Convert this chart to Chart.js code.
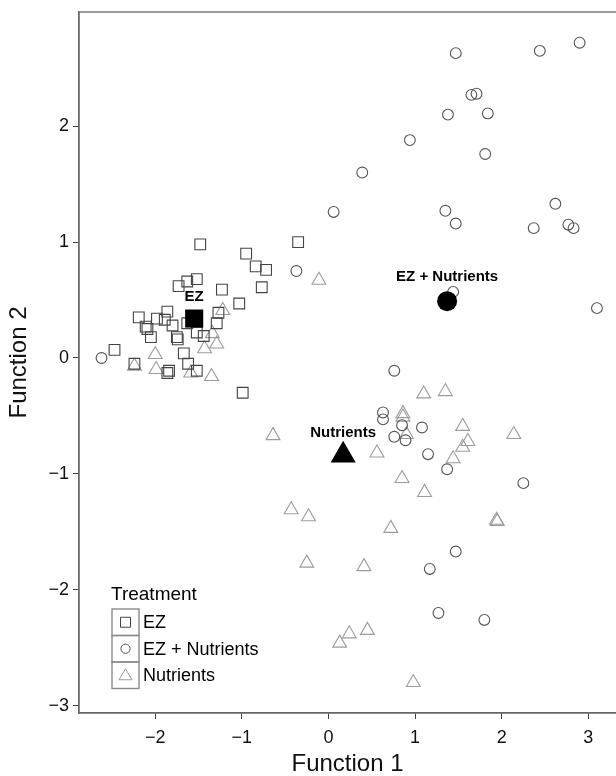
<!DOCTYPE html>
<html>
<head>
<meta charset="utf-8">
<title>Discriminant functions by treatment</title>
<style>
  html, body { margin: 0; padding: 0; background: #fff; overflow: hidden; }
  #wrap { width: 616px; height: 776px; position: relative; }
  canvas { display: block; }
</style>
</head>
<body>
<div id="wrap"><canvas id="chart"></canvas></div>
<script src="https://cdn.jsdelivr.net/npm/chart.js@4/dist/chart.umd.min.js"></script>
<script>
// group labels
var groups = ['EZ', 'EZ + Nutrients', 'Nutrients'];

// EZ (squares)
var ezX = [-1.48, -0.95, -0.84, -0.72, -0.77, -0.35, -1.52, -1.63, -1.73, -1.23, -1.03, -1.86, -1.27,
           -2.19, -1.98, -1.89, -1.29, -1.63, -2.11, -1.80, -2.09, -2.05, -1.75, -1.74, -1.52, -1.44,
           -2.47, -1.67, -1.62, -2.24, -1.84, -1.86, -1.52, -0.99];
var ezY = [0.98, 0.90, 0.79, 0.76, 0.61, 1.00, 0.68, 0.66, 0.62, 0.59, 0.47, 0.40, 0.39,
           0.35, 0.34, 0.33, 0.30, 0.30, 0.27, 0.28, 0.25, 0.18, 0.18, 0.16, 0.22, 0.19,
           0.07, 0.04, -0.05, -0.05, -0.11, -0.13, -0.11, -0.30];

// EZ + Nutrients (circles)
var eznX = [1.47, 2.44, 2.90, 1.65, 1.71, 1.38, 1.84, 0.94, 1.81, 0.39, 0.06, 1.35, 1.47, 2.62,
            2.37, 2.77, 2.83, -0.37, 1.44, 3.10, -2.62, 0.76, 0.63, 0.63, 0.85, 1.08, 0.76, 0.89,
            1.15, 1.37, 2.25, 1.47, 1.17, 1.27, 1.80];
var eznY = [2.63, 2.65, 2.72, 2.27, 2.28, 2.10, 2.11, 1.88, 1.76, 1.60, 1.26, 1.27, 1.16, 1.33,
            1.12, 1.15, 1.12, 0.75, 0.57, 0.43, 0.00, -0.11, -0.47, -0.53, -0.58, -0.60, -0.68, -0.71,
            -0.83, -0.96, -1.08, -1.67, -1.82, -2.20, -2.26];

// Nutrients (triangles)
var nutX = [-1.22, -1.34, -1.29, -1.43, -2.00, -2.24, -1.99, -1.59, -1.35, -0.11, -0.64, 1.10, 1.35,
            0.86, 0.86, 1.55, 0.90, 1.61, 1.55, 2.14, 0.56, 1.44, 0.85, 1.11, -0.43, -0.23, 0.72,
            1.94, 1.95, -0.25, 0.41, 0.24, 0.45, 0.13, 0.98];
var nutY = [0.41, 0.21, 0.12, 0.08, 0.03, -0.07, -0.10, -0.13, -0.16, 0.67, -0.67, -0.31, -0.29,
            -0.48, -0.51, -0.59, -0.66, -0.72, -0.77, -0.66, -0.82, -0.87, -1.04, -1.16, -1.31, -1.37, -1.47,
            -1.40, -1.41, -1.77, -1.80, -2.38, -2.35, -2.46, -2.80];

// group centroids, same order as groups
var centX = [-1.55, 1.37, 0.17];
var centY = [0.34, 0.49, -0.84];

// axis range and ticks
var xRange = [-2.88, 3.32];
var yRange = [-3.063, 2.985];

function pts(xs, ys) {
  return xs.map(function (x, i) { return { x: x, y: ys[i] }; });
}

function minus(v) {
  return v < 0 ? '\u2212' + Math.abs(v) : String(v);
}

var styles = ['rect', 'circle', 'triangle'];
var strokes = ['#444', '#555', '#9c9c9c'];
var radii = [7.6, 5.4, 8];
var centRadii = [12.8, 10, 14.5];

var data = [pts(ezX, ezY), pts(eznX, eznY), pts(nutX, nutY)];
var datasets = [];
groups.forEach(function (g, i) {
  datasets.push({
    label: g,
    data: data[i],
    pointStyle: styles[i],
    pointRadius: radii[i],
    borderColor: strokes[i],
    backgroundColor: 'rgba(0,0,0,0)',
    borderWidth: 1.1,
    order: 1
  });
});
groups.forEach(function (g, i) {
  datasets.push({
    label: g + ' centroid',
    centroid: true,
    data: [{ x: centX[i], y: centY[i] }],
    pointStyle: styles[i],
    pointRadius: centRadii[i],
    borderColor: '#000',
    backgroundColor: '#000',
    borderWidth: 0,
    order: 0
  });
});

var framePlugin = {
  id: 'frame',
  afterDraw: function (chart) {
    var a = chart.chartArea, ctx = chart.ctx;
    ctx.save();
    ctx.strokeStyle = '#666';
    ctx.lineWidth = 1.3;
    ctx.strokeRect(a.left, a.top, a.right - a.left + 2, a.bottom - a.top);
    ctx.restore();
  }
};

var centroidLabels = {
  id: 'centroidLabels',
  afterDatasetsDraw: function (chart) {
    var ctx = chart.ctx;
    ctx.save();
    ctx.font = 'bold 15px "Liberation Sans", Arial, sans-serif';
    ctx.fillStyle = '#000';
    ctx.textAlign = 'center';
    ctx.textBaseline = 'middle';
    var offs = [22, 24, 22];
    chart.data.datasets.forEach(function (ds, di) {
      if (!ds.centroid) return;
      var gi = di - groups.length;
      var el = chart.getDatasetMeta(di).data[0];
      ctx.fillText(groups[gi], el.x, el.y - offs[gi]);
    });
    ctx.restore();
  }
};

var treatmentLegend = {
  id: 'treatmentLegend',
  afterDraw: function (chart) {
    var ctx = chart.ctx, a = chart.chartArea;
    var left = a.left + 33, top = 609, bw = 27, bh = 26.5;
    ctx.save();
    ctx.fillStyle = '#000';
    ctx.textBaseline = 'middle';
    ctx.font = '19px "Liberation Sans", Arial, sans-serif';
    ctx.fillText('Treatment', left - 1, top - 14);
    ctx.font = '18px "Liberation Sans", Arial, sans-serif';
    groups.forEach(function (g, i) {
      var y0 = top + i * bh;
      ctx.strokeStyle = '#8a8a8a';
      ctx.lineWidth = 1.4;
      ctx.strokeRect(left, y0, bw, bh);
      var cx = left + bw / 2, cy = y0 + bh / 2;
      ctx.strokeStyle = strokes[i];
      ctx.lineWidth = 1;
      ctx.beginPath();
      if (i === 0) {
        ctx.rect(cx - 5, cy - 5, 10, 10);
      } else if (i === 1) {
        ctx.arc(cx, cy, 4.6, 0, Math.PI * 2);
      } else {
        ctx.moveTo(cx, cy - 6.5);
        ctx.lineTo(cx + 6.5, cy + 4.5);
        ctx.lineTo(cx - 6.5, cy + 4.5);
        ctx.closePath();
      }
      ctx.stroke();
      ctx.fillStyle = '#000';
      ctx.fillText(g, left + bw + 4, cy + 1);
    });
    ctx.restore();
  }
};

var tickFont = { family: '"Liberation Sans", Arial, sans-serif', size: 18 };
var titleFont = { family: '"Liberation Sans", Arial, sans-serif', size: 24 };

new Chart(document.getElementById('chart'), {
  type: 'scatter',
  data: { datasets: datasets },
  options: {
    responsive: true,
    maintainAspectRatio: false,
    animation: false,
    events: [],
    layout: { autoPadding: false, padding: { top: 12, right: 0, left: 0, bottom: 0 } },
    plugins: { legend: { display: false }, tooltip: { enabled: false } },
    scales: {
      x: {
        type: 'linear',
        min: xRange[0],
        max: xRange[1],
        afterFit: function (s) { s.height = 63; s.paddingLeft = 0; s.paddingRight = 0; },
        grid: { drawOnChartArea: false, tickLength: 6, color: '#444', tickWidth: 1 },
        border: { color: '#666', width: 1.3 },
        ticks: { stepSize: 1, includeBounds: false, color: '#111', font: tickFont, padding: 8,
                 maxRotation: 0, callback: function (v) { return minus(v); } },
        title: { display: true, text: 'Function 1', color: '#111', font: titleFont, padding: { top: 0, bottom: -3 } }
      },
      y: {
        type: 'linear',
        min: yRange[0],
        max: yRange[1],
        afterFit: function (s) { s.width = 79; s.paddingTop = 0; s.paddingBottom = 0; },
        grid: { drawOnChartArea: false, tickLength: 6, color: '#444', tickWidth: 1 },
        border: { color: '#666', width: 1.3 },
        ticks: { stepSize: 1, includeBounds: false, color: '#111', font: tickFont, padding: 4,
                 callback: function (v) { return minus(v); } },
        title: { display: true, text: 'Function 2', color: '#111', font: titleFont, padding: { top: 5, bottom: 0 } }
      }
    }
  },
  plugins: [framePlugin, centroidLabels, treatmentLegend]
});
</script>
</body>
</html>
